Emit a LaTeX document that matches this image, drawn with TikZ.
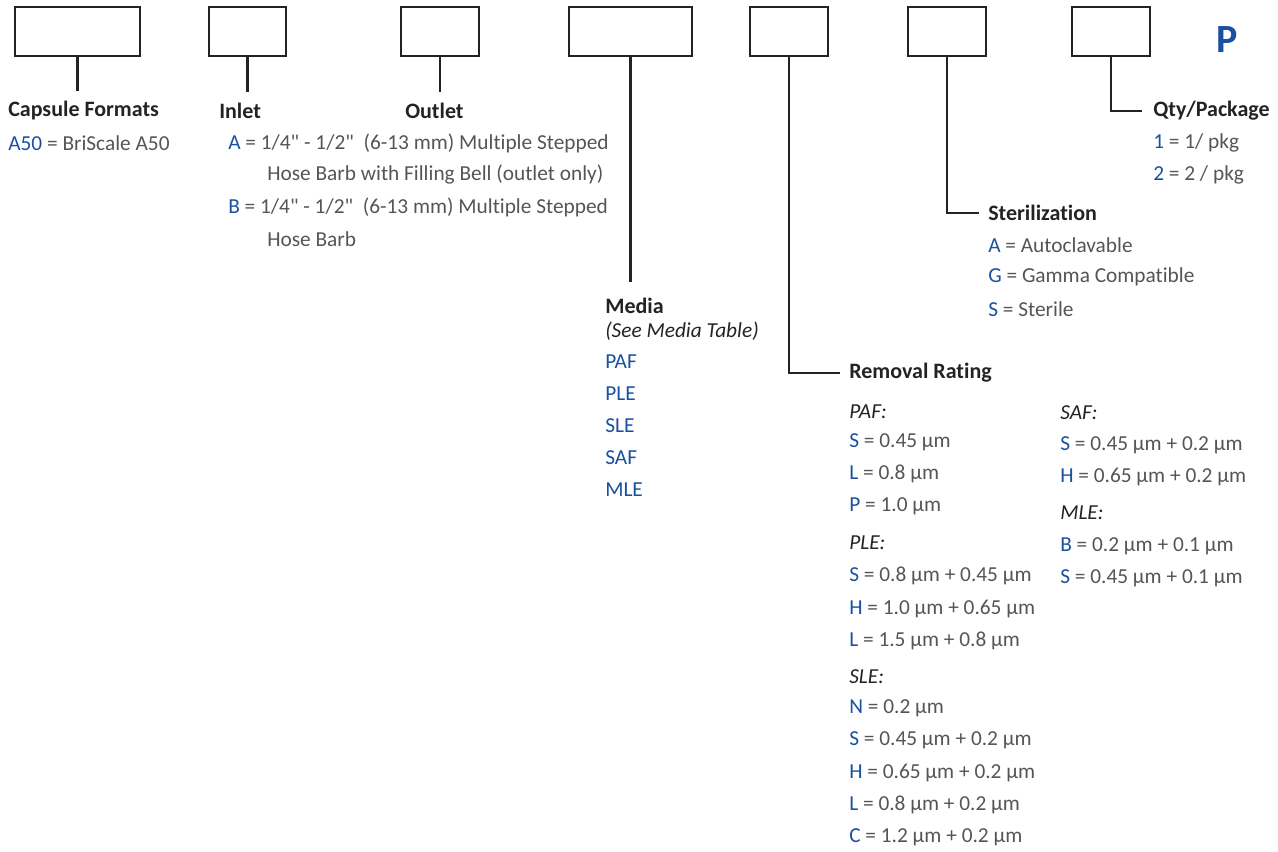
\documentclass[tikz,border=0pt]{standalone}
\usepackage{fontspec}
\setmainfont{Carlito}[Ligatures={TeXOff,NoCommon}]
\usetikzlibrary{positioning}
\definecolor{codeblue}{RGB}{25,80,160}
\definecolor{headdark}{RGB}{35,35,35}
\definecolor{bodygray}{RGB}{85,85,85}
\newcommand{\cd}[1]{\textcolor{codeblue}{#1}}

\begin{document}
\begin{tikzpicture}[x=0.75pt, y=-0.75pt,
    box/.style={draw=headdark, line width=1.8pt, minimum height=36.75pt, inner sep=0},
    txt/.style={anchor=west, inner sep=0, text=bodygray, font=\fontsize{16}{19}\selectfont},
    head/.style={txt, text=headdark, font=\fontsize{16.5}{19}\selectfont\bfseries},
    grp/.style={txt, text=headdark, font=\fontsize{16}{19}\selectfont\itshape},
    stem/.style={draw=headdark, line width=1.8pt}]
    \useasboundingbox (0,0) rectangle (1278,852);

    % code boxes
    \node (b1) [box, minimum width=93.75pt] at (77.5,31.5) {};
    \node (b2) [box, minimum width=57.75pt] at (247.5,31.5) {};
    \node (b3) [box, minimum width=58.5pt] at (440,31.5) {};
    \node (b4) [box, minimum width=92.25pt] at (630.5,31.5) {};
    \node (b5) [box, minimum width=58.5pt] at (789,31.5) {};
    \node (b6) [box, minimum width=58.5pt] at (947,31.5) {};
    \node (b7) [box, minimum width=58.5pt] at (1111,31.5) {};
    \node (suffix) [text=codeblue, inner sep=0, font=\fontsize{30}{32}\selectfont\bfseries] at (1227,40) {P};

    % capsule, inlet, outlet
    \node (capsule) [head] at (8,111) {Capsule Formats};
    \node (capsuleA) [txt] at (8,143) {\cd{A50} = BriScale A50};
    \node (inlet) [head] at (219,111) {Inlet};
    \node (outlet) [head] at (405,111) {Outlet};
    \node (portA) [txt] at (228,143) {\cd{A} = 1/4" - 1/2"\ \ (6-13 mm) Multiple Stepped};
    \node (portA2) [txt] at (267,175) {Hose Barb with Filling Bell (outlet only)};
    \node (portB) [txt] at (228,207) {\cd{B} = 1/4" - 1/2"\ \ (6-13 mm) Multiple Stepped};
    \node (portB2) [txt] at (267,239) {Hose Barb};

    % media
    \node (media) [head] at (605,306) {Media};
    \node (mediaNote) [grp] at (605,331) {(See Media Table)};
    \foreach \m [count=\i] in {PAF,PLE,SLE,SAF,MLE}
        \node (media\i) [txt, text=codeblue] at (605,{330+32*\i}) {\m};

    % removal rating
    \node (removal) [head] at (849,373) {Removal Rating};
    \node (paf) [grp] at (849,412) {PAF:};
    \foreach \c/\v [count=\i] in {S/0.45 µm, L/0.8 µm, P/1.0 µm}
        \node (paf\i) [txt] at (849,{410+32*\i}) {\cd{\c} = \v};
    \node (ple) [grp] at (849,543) {PLE:};
    \foreach \c/\v [count=\i] in {S/0.8 µm + 0.45 µm, H/1.0 µm + 0.65 µm, L/1.5 µm + 0.8 µm}
        \node (ple\i) [txt] at (849,{544+32.3*\i}) {\cd{\c} = \v};
    \node (sle) [grp] at (849,677) {SLE:};
    \foreach \c/\v [count=\i] in {N/0.2 µm, S/0.45 µm + 0.2 µm, H/0.65 µm + 0.2 µm, L/0.8 µm + 0.2 µm, C/1.2 µm + 0.2 µm}
        \node (sle\i) [txt] at (849,{676+32.25*\i}) {\cd{\c} = \v};
    \node (saf) [grp] at (1060,413) {SAF:};
    \foreach \c/\v [count=\i] in {S/0.45 µm + 0.2 µm, H/0.65 µm + 0.2 µm}
        \node (saf\i) [txt] at (1060,{413+32*\i}) {\cd{\c} = \v};
    \node (mle) [grp] at (1060,513) {MLE:};
    \foreach \c/\v [count=\i] in {B/0.2 µm + 0.1 µm, S/0.45 µm + 0.1 µm}
        \node (mle\i) [txt] at (1060,{514+32*\i}) {\cd{\c} = \v};

    % sterilization, qty
    \node (steril) [head] at (988,213) {Sterilization};
    \foreach \c/\v [count=\i] in {A/Autoclavable, G/Gamma Compatible, S/Sterile}
        \node (steril\i) [txt] at (988,{213+32*\i}) {\cd{\c} = \v};
    \node (qty) [head] at (1153,111) {Qty/Package};
    \node (qty1) [txt] at (1153,143) {\cd{1} = 1/ pkg};
    \node (qty2) [txt] at (1153,175) {\cd{2} = 2 / pkg};

    % stems
    \draw[stem] (b1.south) -- ([yshift=8pt]b1.south |- capsule.north);
    \draw[stem] (b2.south) -- ([yshift=8pt]b2.south |- inlet.north);
    \draw[stem] (b3.south) -- ([yshift=8pt]b3.south |- outlet.north);
    \draw[stem] (b4.south) -- ([yshift=12pt]b4.south |- media.north);
    \draw[stem] (b5.south) |- ([xshift=-7pt]removal.west);
    \draw[stem] (b6.south) |- ([xshift=-7pt]steril.west);
    \draw[stem] (b7.south) |- ([xshift=-8pt]qty.west);
\end{tikzpicture}
\end{document}
